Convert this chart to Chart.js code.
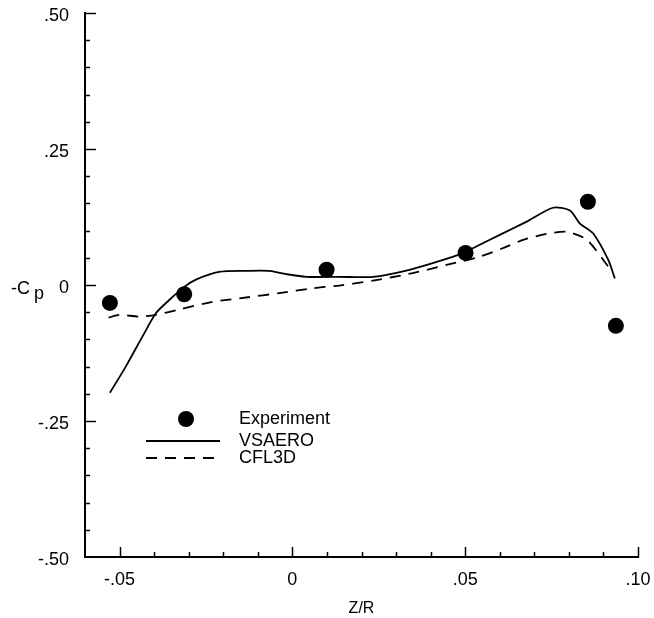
<!DOCTYPE html>
<html>
<head>
<meta charset="utf-8">
<script src="https://cdn.jsdelivr.net/npm/chart.js@4.4.1/dist/chart.umd.min.js"></script>
<style>
  html, body { margin: 0; padding: 0; background: #fff; }
  #wrap { width: 654px; height: 618px; }
</style>
</head>
<body>
<div id="wrap"><canvas id="cp"></canvas></div>
<script>
// Pressure coefficient along Z/R: experiment vs. two computations
const expZ  = [-0.0528, -0.0313, 0.0099, 0.0501, 0.0855, 0.0936];
const expCp = [-0.033, -0.017, 0.028, 0.059, 0.153, -0.075];

const vsaeroZ  = [-0.0528, -0.0482, -0.0434, -0.0395, -0.0357, -0.0312, -0.0279, -0.0212, -0.0134, -0.0067,
                  -0.0018, 0.0040, 0.0136, 0.0233, 0.0339, 0.0436, 0.0501, 0.0561, 0.0648, 0.0677,
                  0.0754, 0.0803, 0.0832, 0.0870, 0.0914, 0.0933];
const vsaeroCp = [-0.198, -0.150, -0.095, -0.052, -0.028, -0.003, 0.010, 0.024, 0.026, 0.026,
                  0.020, 0.015, 0.015, 0.015, 0.028, 0.046, 0.061, 0.080, 0.107, 0.116,
                  0.142, 0.137, 0.113, 0.095, 0.046, 0.012];

const cfl3dZ  = [-0.0532, -0.0501, -0.0443, -0.0395, -0.0328, -0.0231, -0.0134, -0.0038, 0.0059, 0.0136,
                 0.0233, 0.0349, 0.0446, 0.0542, 0.0610, 0.0668, 0.0736, 0.0794, 0.0852, 0.0914];
const cfl3dCp = [-0.060, -0.055, -0.058, -0.055, -0.045, -0.031, -0.023, -0.015, -0.006, -0.001,
                 0.008, 0.022, 0.037, 0.052, 0.068, 0.083, 0.094, 0.098, 0.083, 0.034];

const xTickValues = [-0.05, 0, 0.05, 0.10];
const yTickValues = [-0.50, -0.25, 0, 0.25, 0.50];
const xMinorStep = 0.01;
const yMinorStep = 0.05;

const FONT = '"Liberation Sans", Arial, Helvetica, sans-serif';

function fmt(v) {
  if (Math.abs(v) < 1e-9) return '0';
  const s = Math.abs(v).toFixed(2).replace(/^0/, '');
  return (v < 0 ? '-' : '') + s;
}

function pts(xs, ys) { return xs.map((x, i) => ({ x: x, y: ys[i] })); }

// Inward tick marks, legend and the -Cp axis title
const decorations = {
  id: 'decorations',
  afterDraw(chart) {
    const ctx = chart.ctx;
    const xs = chart.scales.x, ys = chart.scales.y;
    const area = chart.chartArea;
    ctx.save();
    ctx.strokeStyle = '#000';
    ctx.lineWidth = 1.5;
    // x ticks (pointing up)
    const nx = Math.round((xs.max - xs.min) / xMinorStep);
    for (let i = 1; i <= nx; i++) {
      const v = xs.min + i * xMinorStep;
      const major = xTickValues.some(t => Math.abs(t - v) < 1e-6);
      const px = Math.round(xs.getPixelForValue(v)) + 0.5;
      ctx.beginPath();
      ctx.moveTo(px, area.bottom);
      ctx.lineTo(px, area.bottom - (major ? 10 : 5));
      ctx.stroke();
    }
    // y ticks (pointing right)
    const ny = Math.round((ys.max - ys.min) / yMinorStep);
    for (let i = 1; i <= ny; i++) {
      const v = ys.min + i * yMinorStep;
      const major = yTickValues.some(t => Math.abs(t - v) < 1e-6);
      const py = Math.round(ys.getPixelForValue(v)) + 0.5;
      ctx.beginPath();
      ctx.moveTo(area.left, py);
      ctx.lineTo(area.left + (major ? 11 : 5), py);
      ctx.stroke();
    }
    // y title: -C with subscript p
    ctx.fillStyle = '#000';
    ctx.textAlign = 'left';
    ctx.textBaseline = 'alphabetic';
    ctx.font = '18px ' + FONT;
    const y0 = ys.getPixelForValue(0);
    ctx.fillText('-C', 11, y0 + 9);
    ctx.fillText('p', 34, y0 + 14);

    // legend
    const ds = chart.data.datasets;
    const lx = area.left + 61, lw = 74, tx = area.left + 154;
    const rows = [area.top + 406, area.top + 428, area.top + 445];
    ctx.textBaseline = 'middle';
    ctx.font = '18px ' + FONT;
    // Experiment marker
    ctx.beginPath();
    ctx.arc(lx + lw / 2 + 3, rows[0], ds[0].pointRadius, 0, Math.PI * 2);
    ctx.fillStyle = ds[0].backgroundColor;
    ctx.fill();
    ctx.fillStyle = '#000';
    ctx.fillText(ds[0].label, tx, rows[0]);
    for (let k = 1; k <= 2; k++) {
      ctx.beginPath();
      ctx.setLineDash(ds[k].borderDash || []);
      ctx.lineWidth = ds[k].borderWidth;
      ctx.strokeStyle = ds[k].borderColor;
      ctx.moveTo(lx, rows[k]);
      ctx.lineTo(lx + lw, rows[k]);
      ctx.stroke();
      ctx.setLineDash([]);
      ctx.fillText(ds[k].label, tx, rows[k]);
    }
    ctx.restore();
  }
};

new Chart(document.getElementById('cp'), {
  type: 'scatter',
  data: {
    datasets: [
      {
        label: 'Experiment',
        data: pts(expZ, expCp),
        pointRadius: 8,
        pointHoverRadius: 8,
        backgroundColor: '#000',
        borderColor: '#000',
        borderWidth: 0,
        showLine: false
      },
      {
        label: 'VSAERO',
        data: pts(vsaeroZ, vsaeroCp),
        showLine: true,
        pointRadius: 0,
        borderColor: '#000',
        borderWidth: 1.8,
        tension: 0.25
      },
      {
        label: 'CFL3D',
        data: pts(cfl3dZ, cfl3dCp),
        showLine: true,
        pointRadius: 0,
        borderColor: '#000',
        borderWidth: 1.8,
        borderDash: [11, 8],
        tension: 0.25
      }
    ]
  },
  options: {
    responsive: true,
    maintainAspectRatio: false,
    animation: false,
    events: [],
    layout: { padding: { top: 13, right: 16, left: 0, bottom: 0 } },
    plugins: { legend: { display: false }, tooltip: { enabled: false } },
    scales: {
      x: {
        type: 'linear',
        min: -0.06,
        max: 0.10,
        afterBuildTicks(scale) { scale.ticks = xTickValues.map(v => ({ value: v })); },
        afterFit(scale) {
          scale.height = 61;
          scale.paddingLeft = 0;
          scale.paddingRight = 0;
        },
        grid: { display: false, drawTicks: false },
        border: { display: true, color: '#000', width: 2 },
        ticks: {
          color: '#000',
          font: { family: FONT, size: 18 },
          padding: 12,
          maxRotation: 0,
          callback: v => fmt(v)
        },
        title: {
          display: true,
          text: 'Z/R',
          color: '#000',
          font: { family: FONT, size: 16 },
          padding: { top: 0, bottom: 0 }
        }
      },
      y: {
        type: 'linear',
        min: -0.5,
        max: 0.5,
        afterBuildTicks(scale) { scale.ticks = yTickValues.map(v => ({ value: v })); },
        afterFit(scale) {
          scale.width = 85;
          scale.paddingTop = 0;
          scale.paddingBottom = 0;
        },
        grid: { display: false, drawTicks: false },
        border: { display: true, color: '#000', width: 2 },
        ticks: {
          color: '#000',
          font: { family: FONT, size: 18 },
          padding: 16,
          labelOffset: 3,
          callback: v => fmt(v)
        }
      }
    }
  },
  plugins: [decorations]
});
</script>
</body>
</html>
